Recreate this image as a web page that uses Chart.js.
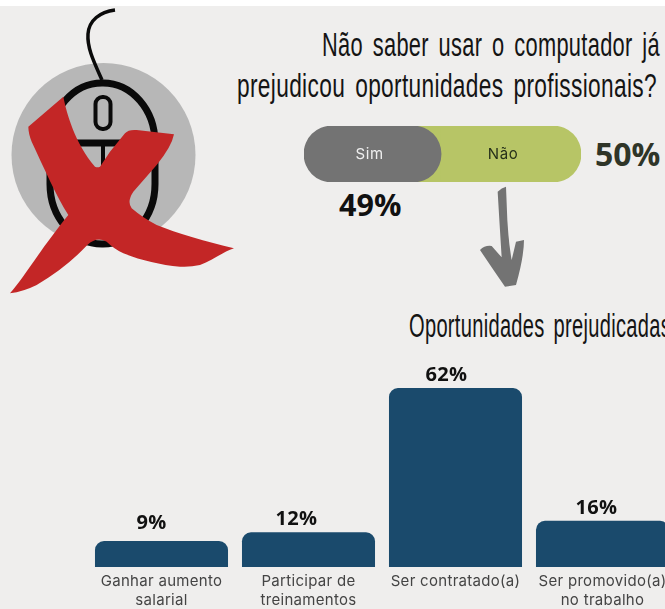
<!DOCTYPE html>
<html lang="pt">
<head>
<meta charset="utf-8">
<title>Oportunidades prejudicadas</title>
<script src="https://cdn.jsdelivr.net/npm/chart.js@4"></script>
<style>
html,body{margin:0;padding:0;width:665px;height:609px;overflow:hidden;background:#fff}
#page{position:absolute;left:0;top:6px;width:665px;height:603px;background:#efeeed;}
#stage{position:absolute;left:0;top:0;width:665px;height:609px;overflow:hidden}
canvas{position:absolute;display:block}
svg{position:absolute;left:0;top:0}
.t{position:absolute;white-space:nowrap;color:#111}
.hand{font-family:"Liberation Sans",sans-serif;font-size:33px;line-height:38px;word-spacing:5px;letter-spacing:.5px;color:#141414;transform-origin:0 0}
.pct{font-family:"Open Sans",sans-serif;font-weight:700;font-size:30.5px;line-height:36px}
</style>
</head>
<body>
<div id="page"></div>
<div id="stage">
<svg width="665" height="609" viewBox="0 0 665 609">
  <circle cx="103.5" cy="155" r="92" fill="#b7b7b7"/>
  <path d="M102 80 C94 62 87 48 88 34 C89 20 100 12 115 10" fill="none" stroke="#0a0a0a" stroke-width="3.5"/>
  <rect x="50" y="83" width="105" height="161" rx="52" ry="60" fill="none" stroke="#0a0a0a" stroke-width="7"/>
  <rect x="95.5" y="97" width="15" height="32" rx="7" fill="none" stroke="#0a0a0a" stroke-width="4"/>
  <path d="M60 143 H148" stroke="#0a0a0a" stroke-width="7"/>
  <path d="M103 143 V175" stroke="#0a0a0a" stroke-width="4"/>
  <g transform="scale(0.33333)">
    <path fill="#c32626" d="M190 290 C200 340 225 430 285 500 Q293 503 300 500 L330 455 L375 400 Q385 388 410 390 L522 403 Q515 440 470 495 L400 575 Q380 605 395 625 Q430 655 470 675 C530 700 620 725 702 745 C670 755 640 780 600 795 Q570 802 540 800 C480 795 420 780 370 760 Q340 745 320 725 Q290 708 262 735 C220 780 170 820 110 855 Q70 875 30 880 C70 835 120 750 205 645 C170 590 130 500 95 425 Q85 400 85 380 Z"/>
  </g>
  <g transform="translate(230 20) scale(0.33333)">
    <path fill="#737373" d="M803 515 Q815 503 828 500 L832 600 Q836 670 845 720 L858 665 L882 660 Q882 710 858 795 L825 800 Q790 750 750 690 Q765 675 785 678 L815 712 Q808 600 803 515 Z"/>
  </g>
</svg>
<div class="t hand" id="t1" style="left:322px;top:26px" data-width="338">Não saber usar o computador já</div>
<div class="t hand" id="t2" style="left:237px;top:67px" data-width="420">prejudicou oportunidades profissionais?</div>
<div class="t hand" id="t3" style="left:409px;top:307px" data-width="262">Oportunidades prejudicadas</div>
<canvas id="pill" width="277" height="56" style="left:304px;top:126px;width:277px;height:56px"></canvas>
<div class="t pct" id="simPct" style="left:339px;top:186px"></div>
<div class="t pct" id="naoPct" style="left:595px;top:136px;color:#2f3528;font-size:32px"></div>
<canvas id="bars" width="720" height="269" style="left:0;top:340px;width:720px;height:269px"></canvas>
</div>
<script>
const answerLabels = ["Sim", "Não"];
const answerValues = [49, 50];
const answerColors = ["#737373", "#b7c566"];
const answerTextColors = ["#efefef", "#26301a"];
const answerTextShift = [-3, -8];

const categories = [
  ["Ganhar aumento", "salarial"],
  ["Participar de", "treinamentos"],
  "Ser contratado(a)",
  ["Ser promovido(a)", "no trabalho"]
];
const shares = [9, 12, 62, 16];
const shareLabelShift = [-10, -12, -9, -6];
const shareLabelGap = [18, 13, 13, 13];

document.getElementById("simPct").textContent = answerValues[0] + "%";
document.getElementById("naoPct").textContent = answerValues[1] + "%";

// Fit the condensed headings to their measured widths
document.querySelectorAll(".hand").forEach((el) => {
  const w = el.getBoundingClientRect().width;
  el.style.transform = "scaleX(" + (Number(el.dataset.width) / w) + ")";
});

const pillPlugin = {
  id: "pillPlugin",
  beforeDatasetsDraw(chart) {
    // green runs on under the rounded end of the grey segment
    const sim = chart.getDatasetMeta(0).data[0];
    const { ctx } = chart;
    ctx.save();
    ctx.fillStyle = answerColors[1];
    ctx.fillRect(sim.x - sim.height / 2, sim.y - sim.height / 2, sim.height / 2 + 1, sim.height);
    ctx.restore();
  },
  afterDatasetsDraw(chart) {
    const { ctx } = chart;
    ctx.save();
    ctx.font = '15px "Inter", sans-serif';
    ctx.textAlign = "center";
    ctx.textBaseline = "middle";
    if ("letterSpacing" in ctx) ctx.letterSpacing = "0.6px";
    answerLabels.forEach((label, i) => {
      const el = chart.getDatasetMeta(i).data[0];
      const left = i === 0 ? 0 : chart.getDatasetMeta(0).data[0].x;
      ctx.fillStyle = answerTextColors[i];
      ctx.fillText(label, (left + el.x) / 2 + answerTextShift[i], el.y);
    });
    ctx.restore();
  }
};

new Chart(document.getElementById("pill"), {
  type: "bar",
  plugins: [pillPlugin],
  data: {
    labels: ["Resposta"],
    datasets: answerLabels.map((label, i) => ({
      label,
      // floating segments laid end to end, so each keeps its own rounded corners
      data: [[i === 0 ? 0 : answerValues[0], i === 0 ? answerValues[0] : answerValues[0] + answerValues[1]]],
      backgroundColor: answerColors[i],
      borderWidth: 0,
      borderRadius: i === 0 ? 28 : { topLeft: 0, bottomLeft: 0, topRight: 28, bottomRight: 28 },
      borderSkipped: false,
      grouped: false,
      categoryPercentage: 1,
      barPercentage: 1
    }))
  },
  options: {
    indexAxis: "y",
    responsive: false,
    animation: false,
    layout: { padding: 0 },
    plugins: { legend: { display: false }, tooltip: { enabled: false } },
    scales: {
      x: { display: false, min: 0, max: 99 },
      y: { display: false }
    }
  }
});

const shareLabelPlugin = {
  id: "shareLabelPlugin",
  beforeDraw(chart) {
    if ("letterSpacing" in chart.ctx) chart.ctx.letterSpacing = "0.3px";
  },
  afterDatasetsDraw(chart) {
    const { ctx } = chart;
    ctx.save();
    ctx.font = 'bold 20px "Open Sans", sans-serif';
    ctx.fillStyle = "#111";
    ctx.textAlign = "center";
    ctx.textBaseline = "middle";
    chart.getDatasetMeta(0).data.forEach((bar, i) => {
      ctx.fillText(shares[i] + "%", bar.x + shareLabelShift[i], bar.y - shareLabelGap[i]);
    });
    ctx.restore();
  }
};

new Chart(document.getElementById("bars"), {
  type: "bar",
  plugins: [shareLabelPlugin],
  data: {
    labels: categories,
    datasets: [{
      label: "Oportunidades prejudicadas",
      data: shares,
      backgroundColor: "#1a4a6c",
      borderWidth: 0,
      borderRadius: { topLeft: 9, topRight: 9, bottomLeft: 0, bottomRight: 0 },
      borderSkipped: "bottom",
      categoryPercentage: 1,
      barPercentage: 0.905
    }]
  },
  options: {
    responsive: false,
    animation: false,
    layout: { padding: { left: 88, right: 44, top: 25, bottom: 0 } },
    plugins: { legend: { display: false }, tooltip: { enabled: false } },
    scales: {
      x: {
        grid: { display: false, drawTicks: false },
        border: { display: false },
        afterFit(scale) { scale.height = 42; },
        ticks: {
          autoSkip: false,
          maxRotation: 0,
          minRotation: 0,
          padding: 5,
          color: "#444444",
          font: { family: 'Inter, sans-serif', size: 15, lineHeight: 1.27 }
        }
      },
      y: { display: false, min: 0, max: 70 }
    }
  }
});
</script>
</body>
</html>
